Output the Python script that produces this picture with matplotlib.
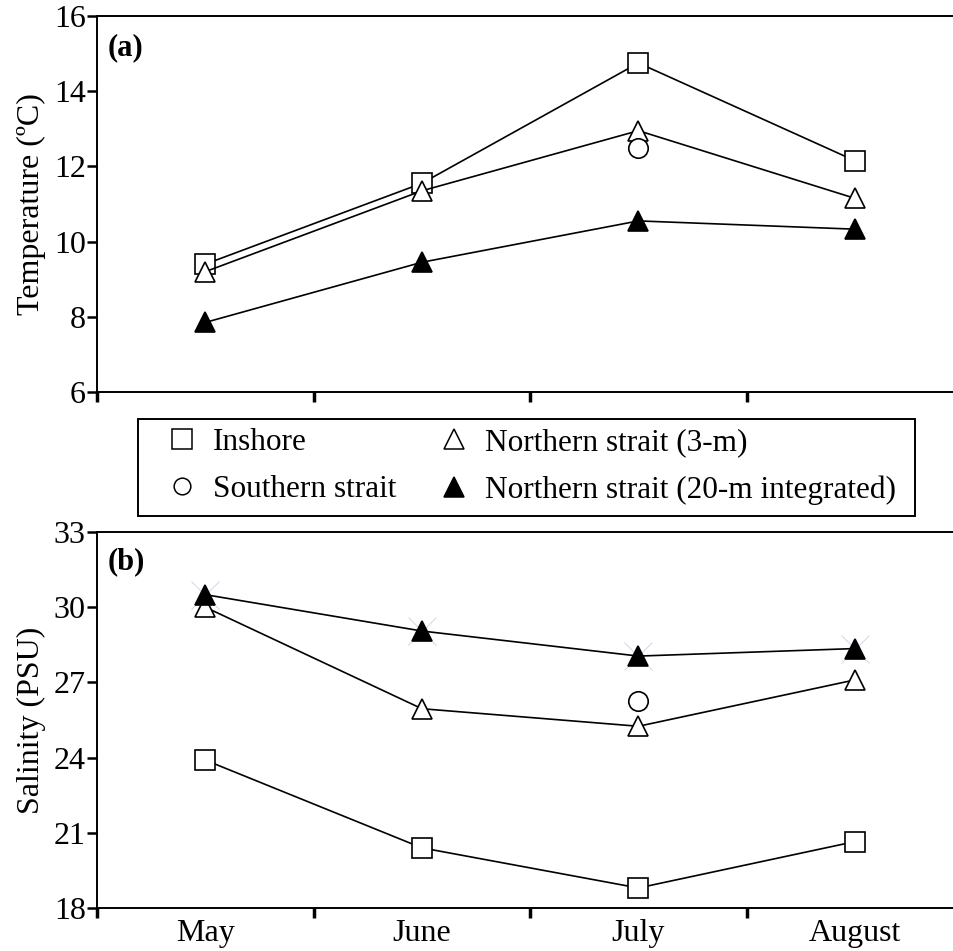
import matplotlib
matplotlib.use("Agg")
from matplotlib import pyplot as plt
from matplotlib.lines import Line2D
from matplotlib.patches import Rectangle
import numpy as np

plt.rcParams['font.family'] = ['Liberation Serif', 'DejaVu Serif']

months = ['May', 'June', 'July', 'August']
xpos = np.arange(len(months)) + 0.5

# temperature (degC)
temp_inshore = [9.4, 11.55, 14.75, 12.15]
temp_north3 = [9.2, 11.35, 12.95, 11.15]
temp_north20 = [7.85, 9.45, 10.55, 10.33]
temp_south_july = 12.5

# salinity (PSU)
sal_inshore = [23.9, 20.4, 18.8, 20.65]
sal_north3 = [30.0, 25.95, 25.25, 27.1]
sal_north20 = [30.5, 29.05, 28.05, 28.35]
sal_south_july = 26.25

fig = plt.figure(figsize=(9.54, 9.51), dpi=100)
ax1 = fig.add_axes([0.1017, 0.5878, 0.908, 0.3954])
ax2 = fig.add_axes([0.1017, 0.0452, 0.908, 0.3954])

lw = 1.2
ms = 15
sq = dict(marker='s', mfc='white', mec='black', mew=1.2, ms=ms, color='black', lw=lw)
tri = dict(marker='^', mfc='white', mec='black', mew=1.2, ms=ms, color='black', lw=lw)
ftri = dict(marker='^', mfc='black', mec='black', mew=1.2, ms=ms, color='black', lw=lw)
circ = dict(marker='o', mfc='white', mec='black', mew=1.2, ms=14, color='black', lw=0)

# panel a
ax1.plot(xpos, temp_inshore, **sq)
ax1.plot(xpos, temp_north3, **tri)
ax1.plot(xpos, temp_north20, **ftri)
ax1.plot([xpos[2]], [temp_south_july], **circ)
ax1.set_ylim(6, 16)
ax1.set_yticks(np.arange(6, 17, 2))
ax1.set_ylabel('Temperature (ºC)', fontsize=23, labelpad=6)
ax1.text(0.05, 15.15, '(a)', fontsize=22, fontweight='bold', va='center')

# panel b
ax2.plot(xpos, sal_north20, ls='none', marker='x', ms=20, mew=0.7, mec='#d4d4ea', zorder=1)
ax2.plot(xpos, sal_inshore, **sq)
ax2.plot(xpos, sal_north3, **tri)
ax2.plot(xpos, sal_north20, **ftri)
ax2.plot([xpos[2]], [sal_south_july], **circ)
ax2.set_ylim(18, 33)
ax2.set_yticks(np.arange(18, 34, 3))
ax2.set_ylabel('Salinity (PSU)', fontsize=23, labelpad=6)
ax2.text(0.05, 31.8, '(b)', fontsize=22, fontweight='bold', va='center')

for ax in (ax1, ax2):
    ax.set_xlim(0, 4)
    ax.set_xticks([0, 1, 2, 3])
    ax.set_xticklabels([])
    ax.spines['right'].set_visible(False)
    for s in ax.spines.values():
        s.set_linewidth(1.4)
    ax.tick_params(axis='y', direction='out', length=7, width=1.8, labelsize=23, pad=1)
    ax.tick_params(axis='x', direction='out', length=7, width=2.5)

# month labels under panel b
ax2.set_xticks(xpos, minor=True)
ax2.set_xticklabels(months, minor=True)
ax2.tick_params(axis='x', which='minor', length=0, labelsize=23, pad=8)

# legend between the panels
handles = [
    Line2D([], [], ls='none', marker='s', mfc='white', mec='black', mew=1.1, ms=14),
    Line2D([], [], ls='none', marker='o', mfc='white', mec='black', mew=1.1, ms=12),
    Line2D([], [], ls='none', marker='^', mfc='white', mec='black', mew=1.1, ms=14),
    Line2D([], [], ls='none', marker='^', mfc='black', mec='black', mew=1.1, ms=14),
]
labels = ['Inshore', 'Southern strait', 'Northern strait (3-m)',
          'Northern strait (20-m integrated)']
fig.legend(handles, labels, ncol=2, loc='upper left',
           bbox_to_anchor=(166 / 954, 1 - 428 / 951), fontsize=22.5,
           frameon=False, handlelength=1.0, handletextpad=0.49,
           columnspacing=1.36, borderpad=0, labelspacing=0.58,
           borderaxespad=0)
fig.patches.append(Rectangle((138 / 954, 1 - 516 / 951), 777 / 954, 97 / 951,
                             transform=fig.transFigure, fill=False,
                             edgecolor='black', linewidth=1.4))

fig.savefig('out.png', dpi=100)
